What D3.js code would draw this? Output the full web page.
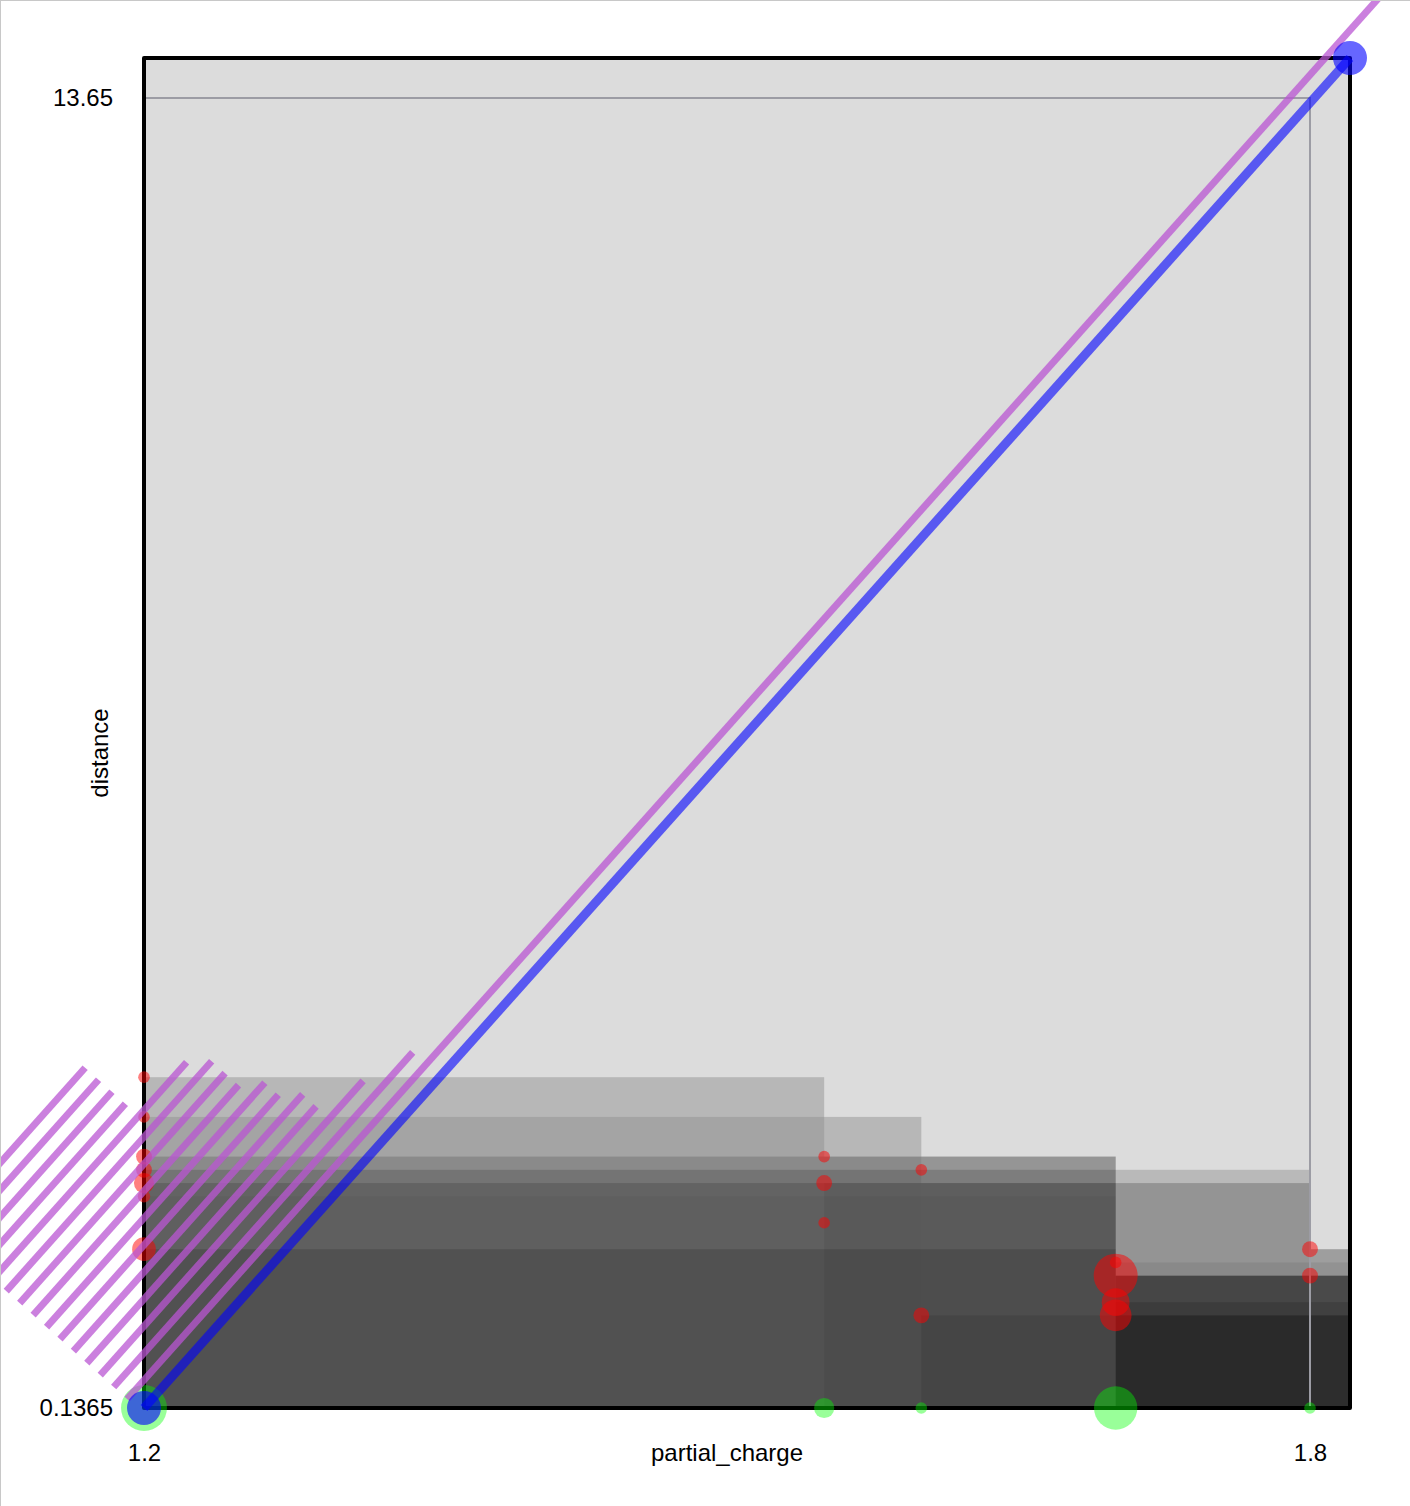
<!DOCTYPE html>
<html lang="en">
<head>
<meta charset="utf-8">
<title>partial_charge / distance</title>
<script src="https://cdn.jsdelivr.net/npm/d3@7"></script>
<style>
  body { margin: 0; background: #fff; }
  svg { display: block; border-top: 1px solid #c8c8c8; border-left: 1px solid #c8c8c8; }
  text { font-family: "Liberation Sans", Arial, Helvetica, sans-serif; font-size: 24px; fill: #000; }
</style>
</head>
<body>
<svg width="1420" height="1520"></svg>
<script>
// axis ticks (data extent)
var xTicks = [1.2, 1.8];
var yTicks = [0.1365, 13.65];
var step = 0.1365;          // distance values are multiples of this

// shaded bands: [partial_charge from, to (null = domain end), distance top in steps, weight]
var bands = [
  [1.2, 1.55, 26, 0.164],
  [1.2, 1.6, 23, 0.10],
  [1.55, 1.6, 23, 0.07],
  [1.2, 1.7, 20, 0.157],
  [1.55, 1.7, 20, 0.10],
  [1.6, 1.7, 20, 0.10],
  [1.2, 1.8, 19, 0.155],
  [1.2, 1.8, 18, 0.14],
  [1.55, 1.7, 18, 0.06],
  [1.6, 1.7, 18, 0.06],
  [1.7, 1.8, 18, 0.06],
  [1.2, 1.7, 17, 0.035],
  [1.2, 1.7, 13, 0.14],
  [1.8, null, 13, 0.28],
  [1.7, null, 12, 0.07],
  [1.7, null, 11, 0.49],
  [1.7, null, 9, 0.135],
  [1.6, null, 8, 0.10],
  [1.7, null, 8, 0.20]
];

// red points
var redX = [1.2, 1.2, 1.2, 1.2, 1.2, 1.2, 1.2, 1.55, 1.55, 1.55, 1.6, 1.6, 1.7, 1.7, 1.7, 1.7, 1.8, 1.8];
var redSteps = [26, 23, 20, 19, 18, 17, 13, 20, 18, 15, 19, 8, 12, 11, 9, 8, 13, 11];
var redCount = [7, 7, 13, 13, 21, 8, 29, 7, 13, 7, 7, 13, 7, 100, 40, 52, 13, 13];

// green points on the baseline
var greenX = [1.2, 1.55, 1.6, 1.7, 1.8];
var greenCount = [109, 21, 7, 97, 7];

// purple stripes, lengths in distance units, first one is the long line
var stripeLen = [20, 4.63, 4.07, 3.55, 3.55, 3.38, 3.38, 3.18, 3.18, 3.18, 3.0, 2.26, 2.26, 2.26, 2.26];
var stripeAnchor = [1.1913, 0.229];

var svg = d3.select("svg");

var x = d3.scaleLinear().domain([1.2, 1.8]).range([143, 1309]);
var y = d3.scaleLinear().domain([0.1365, 13.65]).range([1407, 97]);
var xMax = x.invert(1349), yMax = y.invert(57);
var r = d3.scaleSqrt().domain([0, 100]).range([0, 22]);
var alpha = d3.scaleLinear().domain([0, 1]).range([0, 1]);

// plot background
svg.append("rect")
   .attr("x", x(1.2)).attr("y", y(yMax))
   .attr("width", x(xMax) - x(1.2)).attr("height", y(step) - y(yMax))
   .attr("fill", "#dcdcdc");

svg.append("g").selectAll("rect")
   .data(bands)
   .enter().append("rect")
   .attr("x", function(d) { return x(d[0]); })
   .attr("y", function(d) { return y(d[2] * step); })
   .attr("width", function(d) { return x(d[1] == null ? xMax : d[1]) - x(d[0]); })
   .attr("height", function(d) { return y(step) - y(d[2] * step); })
   .attr("fill", "#000")
   .attr("fill-opacity", function(d) { return alpha(d[3]); });

// data extent box
svg.append("rect")
   .attr("x", x(xTicks[0])).attr("y", y(yTicks[1]))
   .attr("width", x(xTicks[1]) - x(xTicks[0])).attr("height", y(yTicks[0]) - y(yTicks[1]))
   .attr("fill", "none").attr("stroke", "#9c9ca4").attr("stroke-width", 2);

// frame
svg.append("rect")
   .attr("x", x(1.2)).attr("y", y(yMax))
   .attr("width", x(xMax) - x(1.2)).attr("height", y(step) - y(yMax))
   .attr("fill", "none").attr("stroke", "#000").attr("stroke-width", 4)
   .attr("stroke-linejoin", "round");

// axes
var fmt = function(d) { return String(d); };
var gx = svg.append("g")
   .attr("transform", "translate(0," + y(yTicks[0]) + ")")
   .call(d3.axisBottom(x).tickValues(xTicks).tickSize(0).tickPadding(36).tickFormat(fmt));
var gy = svg.append("g")
   .attr("transform", "translate(" + x(xTicks[0]) + ",0)")
   .call(d3.axisLeft(y).tickValues(yTicks).tickSize(0).tickPadding(31).tickFormat(fmt));
gx.select(".domain").remove();
gy.select(".domain").remove();

svg.append("text")
   .attr("x", (x(xTicks[0]) + x(xTicks[1])) / 2)
   .attr("y", y(yTicks[0]) + 53)
   .attr("text-anchor", "middle")
   .text("partial_charge");

svg.append("text")
   .attr("transform", "translate(107," + (y(yTicks[0]) + y(yTicks[1])) / 2 + ") rotate(-90)")
   .attr("text-anchor", "middle")
   .text("distance");

// green points
svg.append("g").selectAll("circle")
   .data(greenX)
   .enter().append("circle")
   .attr("cx", function(d) { return x(d); })
   .attr("cy", y(step))
   .attr("r", function(d, i) { return r(greenCount[i]); })
   .attr("fill", "lime").attr("fill-opacity", 0.4);

// red points
svg.append("g").selectAll("circle")
   .data(redX)
   .enter().append("circle")
   .attr("cx", function(d) { return x(d); })
   .attr("cy", function(d, i) { return y(redSteps[i] * step); })
   .attr("r", function(d, i) { return r(redCount[i]); })
   .attr("fill", "red").attr("fill-opacity", 0.5);

// purple stripes, drawn along the diagonal
var angle = Math.atan2(y(yMax) - y(step), x(xMax) - x(1.2)) * 180 / Math.PI;
var lenScale = d3.scaleLinear().domain([0, 1]).range([0, y(0) - y(1)]);
var offset = d3.scaleLinear().domain([0, stripeLen.length - 1]).range([0, 18 * (stripeLen.length - 1)]);

svg.append("g")
   .attr("transform", "translate(" + x(stripeAnchor[0]) + "," + y(stripeAnchor[1]) + ") rotate(" + angle + ")")
   .selectAll("line")
   .data(stripeLen)
   .enter().append("line")
   .attr("x1", 0)
   .attr("y1", function(d, i) { return -offset(i); })
   .attr("x2", function(d) { return lenScale(d); })
   .attr("y2", function(d, i) { return -offset(i); })
   .attr("stroke", "mediumorchid").attr("stroke-opacity", 0.75)
   .attr("stroke-width", 7);

// blue diagonal
svg.append("line")
   .attr("x1", x(1.2)).attr("y1", y(step))
   .attr("x2", x(xMax)).attr("y2", y(yMax))
   .attr("stroke", "blue").attr("stroke-opacity", 0.6).attr("stroke-width", 9);

svg.append("g").selectAll("circle")
   .data([[1.2, step], [xMax, yMax]])
   .enter().append("circle")
   .attr("cx", function(d) { return x(d[0]); })
   .attr("cy", function(d) { return y(d[1]); })
   .attr("r", 17)
   .attr("fill", "blue").attr("fill-opacity", 0.6);
</script>
</body>
</html>
